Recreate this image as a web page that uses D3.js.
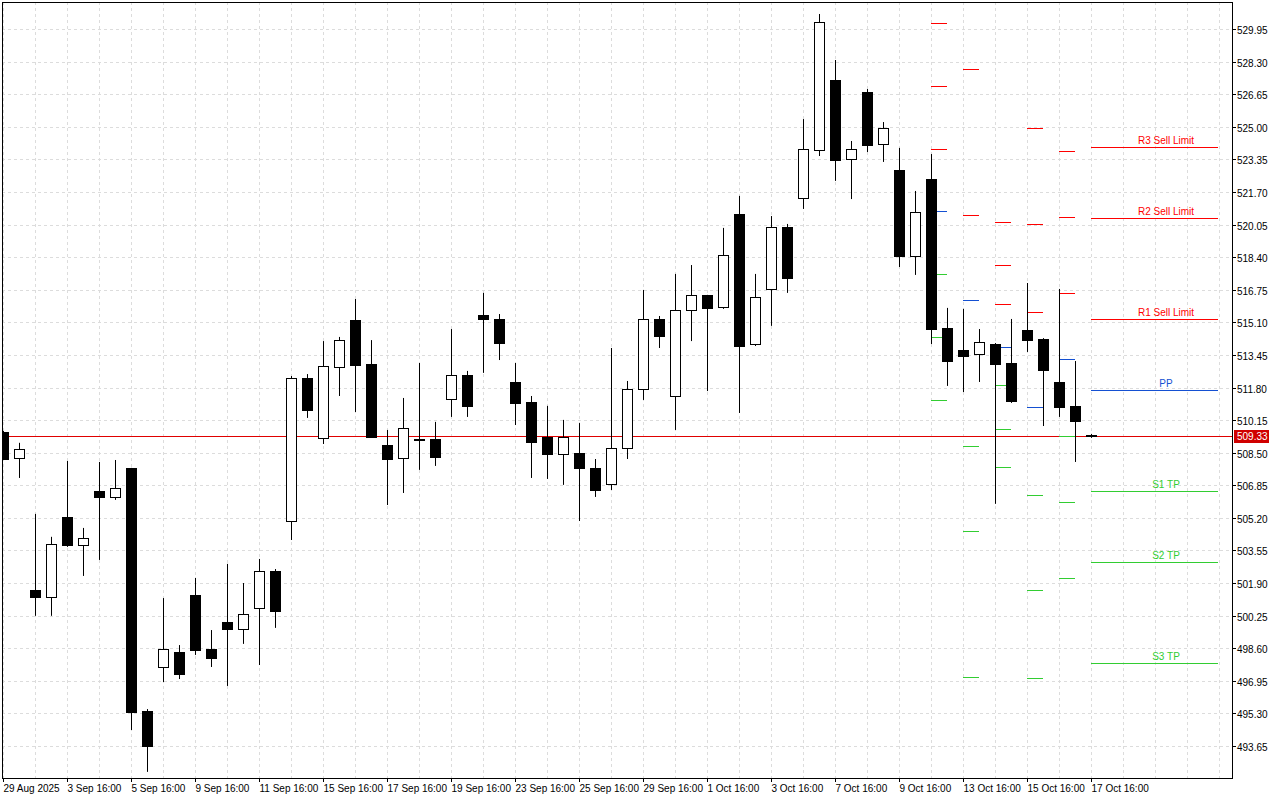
<!DOCTYPE html>
<html>
<head>
<meta charset="utf-8">
<title>Candles with pivot levels</title>
<script src="https://d3js.org/d3.v7.min.js"></script>
<style>
  body { margin: 0; background: #fff; }
  text { font-family: "Liberation Sans", Arial, sans-serif; font-size: 10px; }
</style>
</head>
<body>
<div id="chart"></div>
<script>
// OHLC per bar
var opens  = [509.55,508.24,501.55,501.20,505.25,503.83,506.56,506.26,507.73,495.42,497.65,498.41,501.30,498.56,499.93,499.57,500.64,502.51,505.04,512.28,509.24,512.84,515.22,512.99,508.89,508.24,509.20,509.20,511.22,512.43,515.47,515.27,512.08,511.07,509.30,508.43,508.49,507.73,506.92,508.74,511.73,515.27,511.37,515.72,516.49,515.88,520.58,514.00,516.79,519.93,521.40,523.83,527.37,523.37,526.76,524.13,522.81,518.46,522.36,514.81,513.70,513.50,514.00,513.04,514.71,514.25,512.08,510.87,509.40];
var highs  = [509.60,509.00,505.40,504.24,508.08,504.69,508.03,508.13,507.73,495.52,501.14,498.76,502.16,499.52,502.87,501.90,503.12,502.61,512.38,512.48,514.15,514.36,516.28,514.20,509.65,511.27,513.04,510.06,514.76,512.64,516.59,515.52,513.04,511.37,510.87,510.16,510.00,508.18,513.80,512.13,516.74,515.42,517.55,518.00,516.49,519.88,521.50,517.55,520.48,520.08,525.39,530.71,528.38,524.28,526.91,525.24,523.93,521.75,523.62,515.83,515.78,514.76,514.05,515.27,517.09,514.30,516.79,513.14,509.45];
var lows   = [508.13,507.22,500.24,500.24,503.73,502.26,503.07,506.11,494.46,492.34,496.89,497.04,498.26,497.65,496.69,498.82,497.75,499.63,504.08,510.26,508.94,511.37,510.56,509.25,505.85,506.46,507.63,507.83,510.31,510.31,512.54,513.19,509.90,507.22,507.17,506.87,505.04,506.26,506.61,508.18,511.17,513.80,509.65,514.15,511.62,515.78,510.51,513.90,514.92,516.59,520.84,523.52,522.26,521.34,523.72,523.22,517.90,517.50,514.00,511.88,511.57,512.08,505.91,511.02,513.60,509.85,510.31,508.03,509.25];
var closes = [508.18,508.69,501.20,503.88,503.83,504.18,506.26,506.71,495.37,493.65,498.56,497.30,498.51,498.11,499.57,500.33,502.51,500.49,512.28,510.66,512.89,514.20,512.94,509.30,508.18,509.75,509.15,508.28,512.43,510.87,515.27,514.05,511.02,509.04,508.43,509.30,507.73,506.61,508.74,511.73,515.27,514.41,515.72,516.49,515.83,518.51,513.90,516.38,519.93,517.35,523.88,530.30,523.32,523.88,524.08,524.94,518.46,520.69,514.76,513.14,513.40,514.10,512.99,511.12,514.20,512.69,510.82,510.11,509.33];

var timeLabels = ["29 Aug 2025","3 Sep 16:00","5 Sep 16:00","9 Sep 16:00","11 Sep 16:00","15 Sep 16:00","17 Sep 16:00","19 Sep 16:00","23 Sep 16:00","25 Sep 16:00","29 Sep 16:00","1 Oct 16:00","3 Oct 16:00","7 Oct 16:00","9 Oct 16:00","13 Oct 16:00","15 Oct 16:00","17 Oct 16:00"];
var priceTicks = [529.95,528.30,526.65,525.00,523.35,521.70,520.05,518.40,516.75,515.10,513.45,511.80,510.15,508.50,506.85,505.20,503.55,501.90,500.25,498.60,496.95,495.30,493.65];
var lastPrice = 509.33;

// daily pivot marks: bar index where each day's set starts, then levels
var pivotBars = [58, 60, 62, 64, 66];
var pivotRes  = [[530.25,527.07,523.87],[527.93,520.53],[520.18,518.00,516.03],[524.94,520.08,515.62],[523.77,520.43,516.59]];
var pivotPP   = [520.73,516.24,513.85,510.82,513.25];
var pivotSup  = [[517.55,514.36,511.17],[508.84,504.54,497.15],[511.93,509.70,507.78],[506.36,501.55,497.10],[509.35,506.00,502.16]];

var levelNames  = ["R3 Sell Limit","R2 Sell Limit","R1 Sell Limit","PP","S1 TP","S2 TP","S3 TP"];
var levelPrices = [523.98,520.38,515.27,511.68,506.56,502.97,497.85];

var W = 1280, H = 800;
var pL = 2, pR = 1232, pT = 2, pB = 778;
var red = "#ff0000", green = "#32cd32", blue = "#1450d2";

var svg = d3.select("#chart").append("svg").attr("width", W).attr("height", H);

var x = d3.scaleLinear().domain([0, 1]).range([3, 19]);
var y = d3.scaleLinear().domain([529.95, 493.65]).range([29, 746]);

svg.append("defs").append("clipPath").attr("id", "clip")
  .append("rect").attr("x", pL).attr("y", pT).attr("width", pR - pL).attr("height", pB - pT);
var plot = svg.append("g").attr("clip-path", "url(#clip)");

// grid
plot.selectAll("line.hg").data(priceTicks).enter().append("line")
  .attr("x1", pL).attr("x2", pR).attr("y1", function(d) { return Math.round(y(d)) + 0.5; })
  .attr("y2", function(d) { return Math.round(y(d)) + 0.5; })
  .attr("stroke", "#dcdcdc").attr("stroke-dasharray", "3,3");
var vgrid = d3.range(0, 78, 2);
plot.selectAll("line.vg").data(vgrid).enter().append("line")
  .attr("x1", function(d) { return Math.round(x(d)) + 0.5; }).attr("x2", function(d) { return Math.round(x(d)) + 0.5; })
  .attr("y1", pT).attr("y2", pB)
  .attr("stroke", "#dcdcdc").attr("stroke-dasharray", "3,3");

// current price line
plot.append("line").attr("x1", pL).attr("x2", pR)
  .attr("y1", Math.round(y(lastPrice)) + 0.5).attr("y2", Math.round(y(lastPrice)) + 0.5)
  .attr("stroke", "#e00000");

// pivot ticks
pivotBars.forEach(function(b, k) {
  var x0 = Math.round(x(b)), x1 = Math.round(x(b + 1));
  function tick(p, c) {
    plot.append("line").attr("x1", x0).attr("x2", x1)
      .attr("y1", Math.round(y(p)) + 0.5).attr("y2", Math.round(y(p)) + 0.5).attr("stroke", c);
  }
  pivotRes[k].forEach(function(p) { tick(p, red); });
  tick(pivotPP[k], blue);
  pivotSup[k].forEach(function(p) { tick(p, green); });
});

// candles
var idx = d3.range(opens.length);
var c = plot.selectAll("g.c").data(idx).enter().append("g");
c.append("line")
  .attr("x1", function(i) { return Math.round(x(i)) + 0.5; }).attr("x2", function(i) { return Math.round(x(i)) + 0.5; })
  .attr("y1", function(i) { return y(highs[i]); }).attr("y2", function(i) { return y(lows[i]); })
  .attr("stroke", "#000");
c.append("rect")
  .attr("x", function(i) { return Math.round(x(i)) - 4.5; })
  .attr("width", 10)
  .attr("y", function(i) { return Math.round(y(Math.max(opens[i], closes[i]))) + 0.5; })
  .attr("height", function(i) { return Math.max(1, Math.round(Math.abs(y(opens[i]) - y(closes[i])))); })
  .attr("fill", function(i) { return closes[i] >= opens[i] ? "#fff" : "#000"; })
  .attr("stroke", "#000");

// level lines on the right
var lvlColors = [red, red, red, blue, green, green, green];
levelPrices.forEach(function(p, k) {
  var yy = Math.round(y(p)) + 0.5;
  plot.append("line").attr("x1", x(68)).attr("x2", 1218).attr("y1", yy).attr("y2", yy).attr("stroke", lvlColors[k]);
  plot.append("text").attr("x", 1166).attr("y", yy - 4).attr("text-anchor", "middle")
    .attr("fill", lvlColors[k]).text(levelNames[k]);
});

// frame
svg.append("rect").attr("x", pL + 0.5).attr("y", pT + 0.5).attr("width", pR - pL).attr("height", pB - pT)
  .attr("fill", "none").attr("stroke", "#000");

// price axis
var ya = svg.append("g");
priceTicks.forEach(function(p) {
  var yy = Math.round(y(p)) + 0.5;
  ya.append("line").attr("x1", pR).attr("x2", pR + 4).attr("y1", yy).attr("y2", yy).attr("stroke", "#000");
  ya.append("text").attr("x", 1237).attr("y", yy + 4).attr("fill", "#000").text(p.toFixed(2));
});
var ly = Math.round(y(lastPrice));
ya.append("rect").attr("x", 1234).attr("y", ly - 6).attr("width", 35).attr("height", 13).attr("fill", "#d00000");
ya.append("text").attr("x", 1237).attr("y", ly + 4).attr("fill", "#fff").text(lastPrice.toFixed(2));

// time axis
var xa = svg.append("g");
timeLabels.forEach(function(t, k) {
  var xx = Math.round(x(k * 4)) + 0.5;
  xa.append("line").attr("x1", xx).attr("x2", xx).attr("y1", pB).attr("y2", pB + 4).attr("stroke", "#000");
  xa.append("text").attr("x", xx).attr("y", 792).attr("fill", "#000").text(t);
});
</script>
</body>
</html>
